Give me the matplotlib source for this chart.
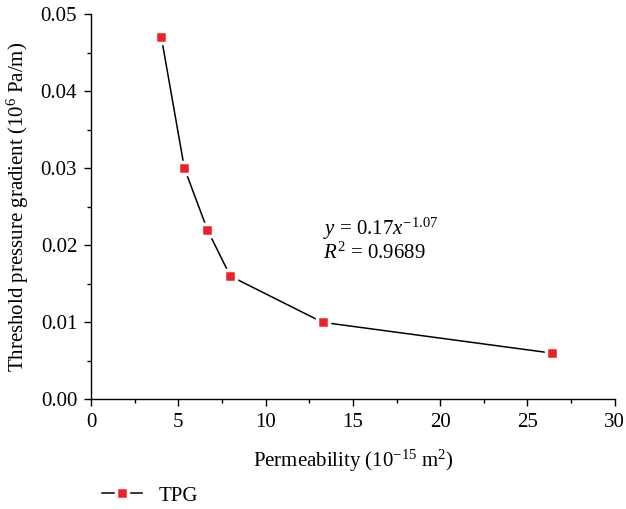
import matplotlib
matplotlib.use("Agg")
import matplotlib.pyplot as plt
from matplotlib.ticker import MultipleLocator, FormatStrFormatter

permeability = [4.03, 5.35, 6.67, 7.98, 13.26, 26.4]
tpg = [0.047, 0.030, 0.022, 0.016, 0.010, 0.006]
series_label = "TPG"
x_label = r"Permeability (10$^{-15}$ m$^{2}$)"
y_label = r"Threshold pressure gradient (10$^{6}$ Pa/m)"
fit_text = r"$y$ = 0.17$x^{-1.07}$" + "\n" + r"$R^{2}$ = 0.9689"

plt.rcParams['font.family'] = ['Liberation Serif', 'DejaVu Serif']
plt.rcParams['mathtext.fontset'] = 'custom'
plt.rcParams['mathtext.rm'] = 'Liberation Serif'
plt.rcParams['mathtext.it'] = 'Liberation Serif:italic'
plt.rcParams['mathtext.bf'] = 'Liberation Serif:bold'

fs = 15
fig = plt.figure(figsize=(6.26, 5.09), dpi=100)
ax = fig.add_axes([0.1454, 0.2155, 0.8366, 0.7564])

ax.plot(permeability, tpg, color='black', lw=1.1, marker='s', markersize=9,
        markerfacecolor='#EE2027', markeredgecolor='white', markeredgewidth=2.5,
        label=series_label, clip_on=False)

ax.set_xlim(0, 30)
ax.set_ylim(0, 0.05)
ax.xaxis.set_major_locator(MultipleLocator(5))
ax.xaxis.set_minor_locator(MultipleLocator(2.5))
ax.yaxis.set_major_locator(MultipleLocator(0.01))
ax.yaxis.set_minor_locator(MultipleLocator(0.005))
ax.yaxis.set_major_formatter(FormatStrFormatter('%.2f'))

for s in ['top', 'right']:
    ax.spines[s].set_visible(False)
for s in ['left', 'bottom']:
    ax.spines[s].set_linewidth(1.0)

ax.tick_params(which='major', direction='out', length=5, width=1.0, labelsize=fs, pad=5)
ax.tick_params(which='minor', direction='out', length=3, width=1.0)

ax.set_xlabel(x_label, fontsize=fs, labelpad=11)
ax.set_ylabel(y_label, fontsize=fs, labelpad=7)

ax.text(13.3, 0.0207, fit_text, fontsize=fs, ha='left', va='center', linespacing=1.05)

fig.legend(loc='lower left', bbox_to_anchor=(0.14, -0.022), frameon=False,
           fontsize=fs, handlelength=1.9, handletextpad=0.8, borderaxespad=0.3)

fig.savefig('out.png', dpi=100)
